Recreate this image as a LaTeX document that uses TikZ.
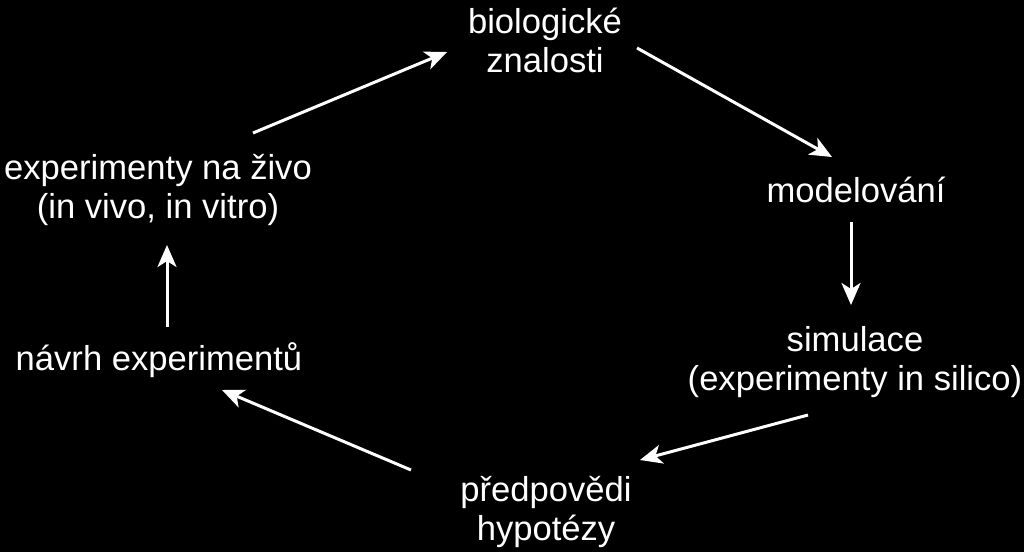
\documentclass[tikz,border=0pt]{standalone}
\usepackage{fontspec}
\setmainfont{Liberation Sans}
\usetikzlibrary{arrows.meta,calc}
\begin{document}
\begin{tikzpicture}[x=1pt,y=-1pt,
  lbl/.style={text=white,align=center,inner sep=0pt,font=\fontsize{34.6}{39}\selectfont},
  conn/.style={draw=white,line width=3pt,-{Stealth[length=22pt,width=19pt,inset=6pt]}}]
\fill[black] (0,0) rectangle (1024,552);
\useasboundingbox (0,0) rectangle (1024,552);
\node[lbl] (bio) at (545,40) {biologické\\znalosti};
\node[lbl] (mod) at (856,190) {modelování};
\node[lbl] (sim) at (855,362) {simulace\\(experimenty in silico)};
\node[lbl] (pred) at (546,512) {předpovědi\\hypotézy};
\node[lbl] (nav) at (159,360) {návrh experimentů};
\node[lbl] (exp) at (158,190) {experimenty na živo\\(in vivo, in vitro)};
\draw[conn] ($(exp.center)+(95,-57)$) -- ($(bio.center)+(-98,12)$);
\draw[conn] ($(bio.center)+(92,8)$) -- ($(mod.center)+(-24,-33)$);
\draw[conn] ($(mod.center)+(-5,32)$) -- ($(sim.center)+(-4,-57)$);
\draw[conn] ($(sim.center)+(-47,53)$) -- ($(pred.center)+(94,-52)$);
\draw[conn] ($(pred.center)+(-135,-42)$) -- ($(nav.center)+(63,30)$);
\draw[conn] ($(nav.center)+(8,-33)$) -- ($(exp.center)+(9,55)$);
\end{tikzpicture}
\end{document}
